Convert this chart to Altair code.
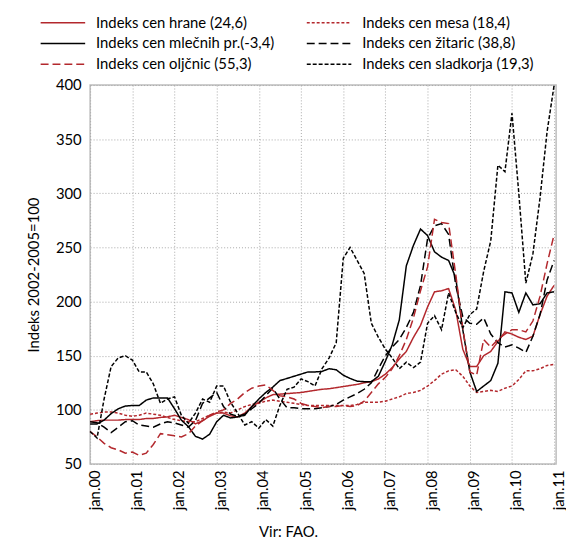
import altair as alt
import pandas as pd

# bi-monthly observations, Jan 2000 ... Jan 2011
dates = pd.date_range("2000-01-01", periods=67, freq="2MS")

FOOD = "Indeks cen hrane (24,6)"
MEAT = "Indeks cen mesa (18,4)"
DAIRY = "Indeks cen mlečnih pr.(-3,4)"
CEREALS = "Indeks cen žitaric (38,8)"
OILS = "Indeks cen oljčnic (55,3)"
SUGAR = "Indeks cen sladkorja (19,3)"

food = [89, 90, 90.5, 90.5, 90.5, 91,
        91, 91, 92, 92, 93, 93.5,
        95, 93, 91, 87, 90, 94,
        97, 97, 94.5, 93.5, 97, 103,
        107, 111, 114, 114.5, 115, 115.5,
        116, 117, 118, 119, 119.5, 120.5,
        121.5, 122.5, 123.5, 125, 126, 128.5,
        133, 139, 147, 154, 167, 178,
        195, 209, 210, 212, 192, 156,
        140, 140, 150, 154, 163, 172,
        170, 167, 165, 168, 188, 205,
        215]

meat = [96, 97, 98, 98, 97, 95,
        94, 95, 97, 96, 95, 93,
        91, 90, 89, 89, 92, 95,
        97, 98, 97, 100, 103, 105,
        106, 108, 109, 108, 107, 106,
        105, 104, 104, 104, 104, 104,
        104, 104, 105, 107, 107, 107,
        108, 110, 112, 115, 116, 118,
        122, 127, 133, 136, 137, 131,
        122, 116, 117, 118, 117, 120,
        122, 128, 136, 136, 138, 141,
        142]

dairy = [87, 87, 90.5, 96.5, 101, 103.5,
         104, 104, 109, 111, 111, 111,
         101, 90.5, 84.5, 75.5, 73, 77.5,
         89, 95, 92.5, 93.5, 95, 103,
         110, 116, 121, 127, 129, 131,
         133, 135, 135, 135.5, 138, 137,
         132, 129, 126.5, 126, 126, 131,
         145, 160, 183, 233, 252, 267,
         261, 246, 241, 238, 222, 174,
         135, 117, 122, 127, 143, 209,
         208, 190, 208, 197, 198, 208,
         209]

cereals = [89, 88, 84, 79, 84, 89,
           90, 86, 85, 84, 87, 89,
           88, 86, 84, 90, 106, 111,
           116, 103, 96, 94, 96, 101,
           106, 113, 120, 110, 102, 102,
           101, 101, 101, 102, 103, 105,
           109, 112, 115, 119, 125, 138,
           150, 158, 165, 176, 190, 215,
           258, 270, 272, 262, 215, 186,
           180, 179, 185, 170, 162, 158,
           160, 157, 153, 168, 188, 220,
           238]

oils = [80, 75, 69, 65, 63, 60,
        61, 58, 60, 68, 78, 77,
        76, 75, 78, 85, 90, 95,
        98, 100, 106, 110, 116, 120,
        122, 123, 118, 113, 112, 110,
        106, 104, 103, 102, 103, 103,
        104, 103, 104, 108, 116, 124,
        130, 138, 150, 165, 185, 210,
        232, 276, 273, 272, 225, 175,
        135, 132, 165, 158, 165, 170,
        174, 174, 172, 182, 205, 235,
        262]

sugar = [80, 74, 110, 140, 148, 150,
         146, 135, 135, 124, 106, 110,
         112, 95, 87.5, 97, 110, 107,
         122, 122, 107, 97, 86, 89,
         83, 91, 85, 104, 119, 121,
         128.6, 126, 122, 138, 148, 162,
         240, 250, 238, 226, 180, 167,
         156, 148, 138, 144, 139, 144,
         180, 187, 174, 208, 190, 176,
         188, 193, 228, 256, 326, 320,
         374, 300, 217, 244, 296, 357,
         400]

year_ticks = [f"{y}-01-01" for y in range(2000, 2012)]
y_ticks = [50, 100, 150, 200, 250, 300, 350, 400]

RED = "#b3282d"
BLACK = "#000000"
# legend fills column by column: left column first, then right column
legend_order = [FOOD, DAIRY, OILS, MEAT, CEREALS, SUGAR]
colors = [RED, BLACK, RED, RED, BLACK, BLACK]
dashes = [[1, 0], [1, 0], [8, 4], [3, 2], [8, 4], [4, 2]]

rows = []
for name, vals in [(FOOD, food), (MEAT, meat), (DAIRY, dairy),
                   (CEREALS, cereals), (OILS, oils), (SUGAR, sugar)]:
    for d, v in zip(dates, vals):
        rows.append({"date": d, "value": v, "series": name})
df = pd.DataFrame(rows)

FONT = "Lato"

# long horizontal stroke symbol (45 px) on a small nominal symbol size
legend_kw = dict(orient="none", legendX=-37.5, legendY=-73, columns=2, title=None,
                 symbolType="M-2.5,0H2.5", symbolSize=324, symbolStrokeWidth=1.5,
                 symbolFillColor="transparent",
                 labelFontSize=15, labelColor="#000", labelOffset=23.5,
                 labelLimit=400, columnPadding=29, rowPadding=3)

chart = alt.Chart(df).mark_line(strokeWidth=1.5).encode(
    x=alt.X("date:T",
            scale=alt.Scale(domain=["2000-01-01", "2011-01-18"]),
            axis=alt.Axis(values=year_ticks,
                          labelExpr="'jan.' + timeFormat(datum.value, '%y')",
                          labelAngle=270, labelAlign="right", labelBaseline="middle",
                          labelOffset=4, labelPadding=6, labelFontSize=15,
                          labelColor="#000", ticks=False, domain=False,
                          grid=True, gridDash=[1, 2], gridColor="#a8a8a8",
                          title="Vir: FAO.", titleFontSize=15, titleFontWeight="normal",
                          titleColor="#000", titleX=200, titleY=68,
                          titleBaseline="middle", titleAlign="center")),
    y=alt.Y("value:Q",
            scale=alt.Scale(domain=[50, 400], nice=False, zero=False),
            axis=alt.Axis(values=y_ticks, labelFontSize=15, labelColor="#000",
                          labelPadding=9, ticks=False, domain=False,
                          grid=True, gridDash=[1, 2], gridColor="#a8a8a8",
                          title="Indeks 2002-2005=100", titleFontSize=15,
                          titleFontWeight="normal", titleColor="#000",
                          titlePadding=14)),
    color=alt.Color("series:N",
                    scale=alt.Scale(domain=legend_order, range=colors),
                    legend=alt.Legend(**legend_kw)),
    strokeDash=alt.StrokeDash("series:N",
                              scale=alt.Scale(domain=legend_order, range=dashes),
                              legend=alt.Legend(**legend_kw)),
).properties(
    width=471, height=383,
    autosize=alt.AutoSizeParams(type="none"),
    padding={"left": 83, "top": 75, "right": 10, "bottom": 76},
).configure(
    font=FONT,
).configure_view(
    stroke="#bdbdbd", strokeWidth=1.5,
)

chart.save("out.html", embed_options={"renderer": "svg", "actions": False})
